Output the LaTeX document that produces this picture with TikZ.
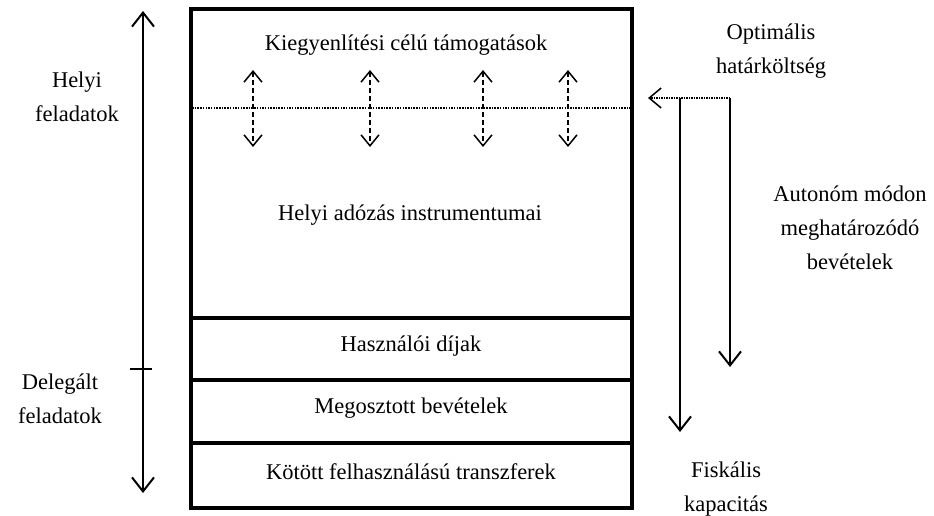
\documentclass[tikz,border=0pt]{standalone}
\usepackage{fontspec}
\setmainfont{Liberation Serif}
\usetikzlibrary{arrows.meta}
\begin{document}
\begin{tikzpicture}[x=1pt,y=1pt,
  lbl/.style={font=\fontsize{22.5}{34}\selectfont, align=center, inner sep=0pt},
  boxline/.style={line width=3.6pt},
  arr/.style={line width=2.2pt, -{Straight Barb[length=14pt,width=22pt,line width=2pt]}},
  darr/.style={line width=2.2pt, {Straight Barb[length=14pt,width=22pt,line width=2pt]}-{Straight Barb[length=14pt,width=22pt,line width=2pt]}},
  dasharr/.style={line width=1.5pt, dash pattern=on 5pt off 3pt, {Straight Barb[length=11pt,width=18pt,line width=1.5pt]}-{Straight Barb[length=11pt,width=18pt,line width=1.5pt]}},
  dotline/.style={line width=2.2pt, dash pattern=on 1.5pt off 1.2pt}]
\useasboundingbox (0,0) rectangle (934,-516);
% main box
\coordinate (tl) at (191,-9);
\coordinate (br) at (632,-508);
\draw[boxline] (tl) rectangle (br);
\coordinate (l1) at (191,-318); \coordinate (r1) at (632,-318);
\coordinate (l2) at (191,-380); \coordinate (r2) at (632,-380);
\coordinate (l3) at (191,-443); \coordinate (r3) at (632,-443);
\draw[boxline] (l1) -- (r1);
\draw[boxline] (l2) -- (r2);
\draw[boxline] (l3) -- (r3);
% dotted line
\coordinate (dl) at (192,-108); \coordinate (dr) at (631,-108);
\draw[dotline] (dl) -- (dr);
% dashed double arrows
\foreach \x/\n in {253/a,370/b,483/c,568/d}{
  \coordinate (\n t) at (\x,-70);
  \coordinate (\n b) at (\x,-147);
  \draw[dasharr] (\n t) -- (\n b);
}
% box texts
\node[lbl] (k) at (406,-45) {Kiegyenlítési célú támogatások};
\node[lbl] (h) at (410,-215) {Helyi adózás instrumentumai};
\node[lbl] (u) at (411,-346) {Használói díjak};
\node[lbl] (m) at (411,-408) {Megosztott bevételek};
\node[lbl] (t) at (411,-472) {Kötött felhasználású transzferek};
% left arrow
\coordinate (la) at (143,-11);
\coordinate (lb) at (143,-493);
\draw[darr] (la) -- (lb);
\coordinate (ta) at (130,-369); \coordinate (tb) at (152,-369);
\draw[line width=2.2pt] (ta) -- (tb);
\node[lbl] (hf) at (77,-97) {Helyi\\feladatok};
\node[lbl] (df) at (60,-399) {Delegált\\feladatok};
% right side
\coordinate (oa) at (730,-98);
\coordinate (ob) at (648,-98);
\coordinate (ov) at (680,-98);
\draw[line width=1.5pt, dash pattern=on 1.5pt off 1pt, -{Straight Barb[length=12pt,width=20pt,line width=1.5pt]}] (oa) -- (ob);
\coordinate (fv) at (680,-432);
\coordinate (av) at (730,-367);
\draw[arr] (ov) -- (fv);
\draw[arr] (oa) -- (av);
\node[lbl] (opt) at (771,-51) {Optimális\\határköltség};
\node[lbl] (aut) at (850,-228) {Autonóm módon\\meghatározódó\\bevételek};
\node[lbl] (fis) at (726,-489) {Fiskális\\kapacitás};
\end{tikzpicture}
\end{document}
